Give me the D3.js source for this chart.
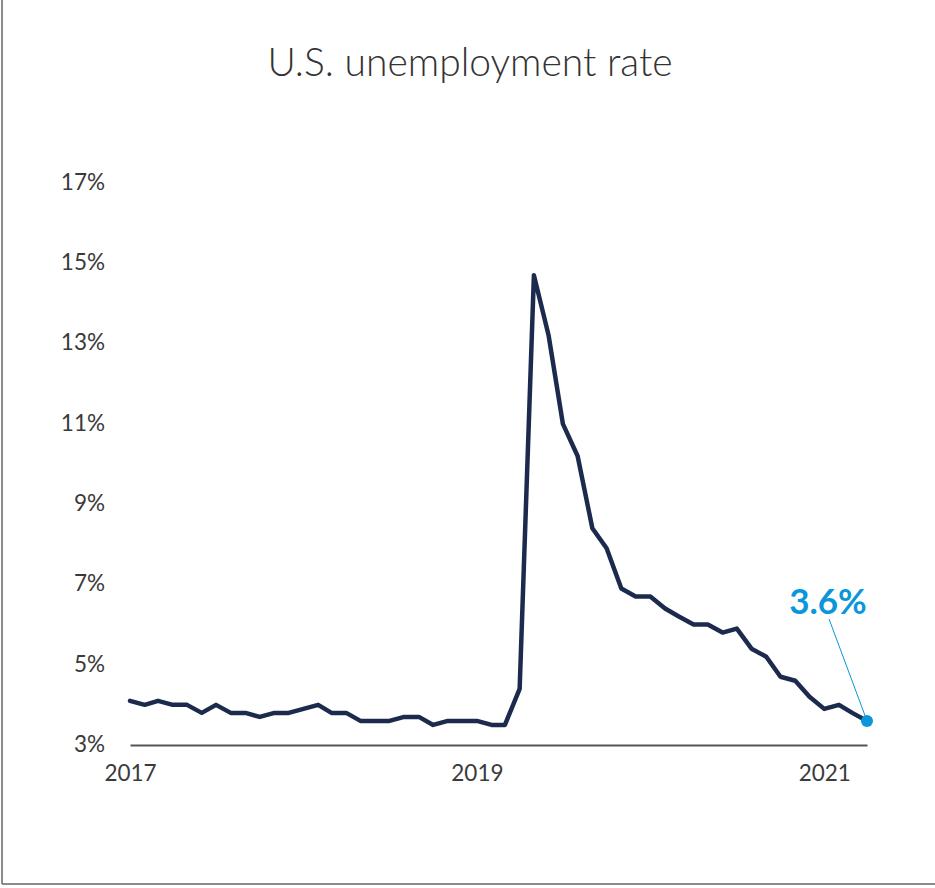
<!DOCTYPE html>
<html>
<head>
<meta charset="utf-8">
<script src="https://cdn.jsdelivr.net/npm/d3@7"></script>
<style>
  body { margin: 0; background: #fff; }
  svg { display: block; font-family: Lato, "Open Sans", sans-serif; }
</style>
</head>
<body>
<svg id="chart" width="935" height="888"></svg>
<script>
// monthly unemployment rate, first point sits on the "2017" tick
var startMonth = "2017-01";
var rates = [4.1, 4.0, 4.1, 4.0, 4.0, 3.8, 4.0, 3.8, 3.8, 3.7, 3.8, 3.8,
             3.9, 4.0, 3.8, 3.8, 3.6, 3.6, 3.6, 3.7, 3.7, 3.5, 3.6, 3.6,
             3.6, 3.5, 3.5, 4.4, 14.7, 13.2, 11.0, 10.2, 8.4, 7.9, 6.9, 6.7,
             6.7, 6.4, 6.2, 6.0, 6.0, 5.8, 5.9, 5.4, 5.2, 4.7, 4.6, 4.2,
             3.9, 4.0, 3.8, 3.6];
var yTicks = [3, 5, 7, 9, 11, 13, 15, 17];
var xTickLabels = ["2017", "2019", "2021"];
var title = "U.S. unemployment rate";

var svg = d3.select("#chart");
var W = 935, H = 888;
var margin = {left: 130, right: 68, top: 183, bottom: 143};

var parseMonth = d3.timeParse("%Y-%m");
var parseYear = d3.timeParse("%Y");
var t0 = parseMonth(startMonth);
var data = rates.map(function(v, i){
    return {date: d3.timeMonth.offset(t0, i), value: v};
});

var x = d3.scaleTime()
    .domain(d3.extent(data, function(d){ return d.date; }))
    .range([margin.left, W - margin.right]);
var y = d3.scaleLinear()
    .domain([3, 17])
    .range([H - margin.bottom, margin.top]);

// frame: left and bottom edge only
svg.append("line").attr("x1", 2).attr("x2", 2).attr("y1", 0).attr("y2", 884)
    .attr("stroke", "#666").attr("stroke-width", 1.5);
svg.append("line").attr("x1", 2).attr("x2", W).attr("y1", 884).attr("y2", 884)
    .attr("stroke", "#666").attr("stroke-width", 1.5);

svg.append("text")
    .attr("x", 470).attr("y", 76)
    .attr("text-anchor", "middle")
    .style("font-size", "39px").style("font-weight", 300)
    .style("fill", "#333")
    .text(title);

// y axis labels
var yAxis = d3.axisLeft(y).tickValues(yTicks)
    .tickFormat(function(d){ return d + "%"; })
    .tickSize(0).tickPadding(0);
svg.append("g")
    .attr("transform", "translate(105,0)")
    .call(yAxis)
    .call(function(g){
        g.select(".domain").remove();
        g.selectAll("text").style("font-size", "22.5px").style("fill", "#3a3a3a")
            .style("font-family", "Lato, sans-serif").attr("dy", "0.28em");
    });

// x axis
var xAxis = d3.axisBottom(x)
    .tickValues(xTickLabels.map(parseYear))
    .tickFormat(d3.timeFormat("%Y"))
    .tickSize(0).tickPadding(20);
svg.append("g")
    .attr("transform", "translate(0," + y(3) + ")")
    .call(xAxis)
    .call(function(g){
        g.select(".domain").attr("stroke", "#555").attr("stroke-width", 2);
        g.selectAll("text").style("font-size", "22.5px").style("fill", "#3a3a3a")
            .style("font-family", "Lato, sans-serif");
    });

var line = d3.line()
    .x(function(d){ return x(d.date); })
    .y(function(d){ return y(d.value); });

svg.append("path")
    .datum(data)
    .attr("d", line)
    .attr("fill", "none")
    .attr("stroke", "#1c2b4d")
    .attr("stroke-width", 4.5)
    .attr("stroke-linejoin", "round")
    .attr("stroke-linecap", "round");

// last value callout
var last = data[data.length - 1];
var lx = x(last.date), ly = y(last.value);
svg.append("line")
    .attr("x1", lx - 38).attr("y1", ly - 102)
    .attr("x2", lx).attr("y2", ly)
    .attr("stroke", "#0a96d8").attr("stroke-width", 1);
svg.append("circle")
    .attr("cx", lx).attr("cy", ly).attr("r", 6)
    .attr("fill", "#0a96d8");
svg.append("text")
    .attr("x", lx - 39).attr("y", ly - 107)
    .attr("text-anchor", "middle")
    .style("font-size", "35px").style("font-weight", 700)
    .style("fill", "#0a96d8")
    .text(last.value.toFixed(1) + "%");
</script>
</body>
</html>
